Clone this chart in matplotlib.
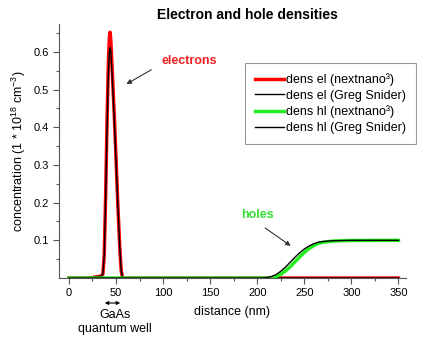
import numpy as np
import matplotlib
matplotlib.use('Agg')
import matplotlib.pyplot as plt

plt.rcParams['font.family'] = ['Liberation Sans', 'DejaVu Sans']
plt.rcParams['mathtext.fontset'] = 'custom'
plt.rcParams['mathtext.rm'] = 'Liberation Sans'
plt.rcParams['mathtext.default'] = 'regular'

# electron density (nextnano3), 1e18 cm^-3
x_el = [0, 10, 20, 25, 28, 31, 34, 36, 37.5, 39, 40.5, 42, 43, 43.7, 44.5, 46, 48, 50, 52, 54, 55.5, 57, 60, 100, 200, 350]
el_nn = [0, 0, 0, 0.001, 0.003, 0.004, 0.005, 0.01, 0.06, 0.22, 0.42, 0.58, 0.64, 0.652, 0.63, 0.55, 0.44, 0.32, 0.19, 0.08, 0.02, 0.0, 0, 0, 0, 0]
# electron density (Greg Snider)
el_gs = [0, 0, 0, 0.001, 0.003, 0.004, 0.005, 0.01, 0.06, 0.21, 0.40, 0.55, 0.60, 0.612, 0.60, 0.53, 0.43, 0.31, 0.19, 0.08, 0.02, 0.0, 0, 0, 0, 0]

# hole density
x_hl = [0, 100, 200, 205, 210, 215, 220, 225, 230, 235, 240, 245, 250, 255, 260, 265, 270, 280, 290, 300, 325, 350]
hl_nn = [0, 0, 0, 0, 0, 0.001, 0.004, 0.010, 0.019, 0.030, 0.043, 0.056, 0.068, 0.078, 0.086, 0.092, 0.095, 0.098, 0.099, 0.0995, 0.1, 0.1]
hl_gs = [0, 0, 0, 0, 0.001, 0.004, 0.009, 0.018, 0.029, 0.042, 0.055, 0.067, 0.077, 0.085, 0.091, 0.095, 0.097, 0.099, 0.0995, 0.1, 0.1, 0.1]

fig = plt.figure(figsize=(4.31, 3.42), dpi=100)
ax = fig.add_axes([0.137, 0.187, 0.805, 0.743])

ax.plot(x_el, el_nn, color='#ff0000', lw=2.5, label='dens el (nextnano³)')
ax.plot(x_el, el_gs, color='black', lw=1, label='dens el (Greg Snider)')
ax.plot(x_hl, hl_nn, color='#22ee22', lw=2.5, label='dens hl (nextnano³)')
ax.plot(x_hl, hl_gs, color='black', lw=1, label='dens hl (Greg Snider)')

ax.set_xlim(-10.5, 358)
ax.set_ylim(0, 0.674)
ax.set_xticks([0, 50, 100, 150, 200, 250, 300, 350])
ax.set_xticks(np.arange(25, 350, 50), minor=True)
ax.set_yticks([0.1, 0.2, 0.3, 0.4, 0.5, 0.6])
ax.set_yticks(np.arange(0.05, 0.66, 0.1), minor=True)
ax.spines['top'].set_visible(False)
ax.spines['right'].set_visible(False)
for s in ['left', 'bottom']:
    ax.spines[s].set_color('#555555')
ax.tick_params(labelsize=8, length=4, width=0.8, color='#555555')
ax.tick_params(which='minor', length=2.5, width=0.8, color='#555555')

fig.text(247 / 431, 1 - 15 / 342, 'Electron and hole densities', ha='center', va='center',
         fontsize=10, fontweight='bold')
fig.text(232 / 431, 1 - 312 / 342, 'distance (nm)', ha='center', va='center', fontsize=9)
ax.set_ylabel('concentration (1 * 10$^{18}$ cm$^{-3}$)', fontsize=9, labelpad=4)

leg = ax.legend(loc='upper left', bbox_to_anchor=(0.518, 0.87), fontsize=9,
                fancybox=False, edgecolor='#999999', framealpha=1,
                handlelength=2.3, handletextpad=0.2, labelspacing=0.3, borderpad=0.8)
leg.get_frame().set_linewidth(0.8)

ax.annotate('', xy=(58.5, 0.511), xytext=(90, 0.556),
            arrowprops=dict(arrowstyle='-|>', color='#333333', lw=0.8, mutation_scale=7))
ax.text(98, 0.575, 'electrons', color='#ee2222', fontsize=9, fontweight='bold', va='center')
ax.annotate('', xy=(238, 0.081), xytext=(206, 0.137),
            arrowprops=dict(arrowstyle='-|>', color='#333333', lw=0.8, mutation_scale=7))
ax.text(183, 0.166, 'holes', color='#33dd33', fontsize=9, fontweight='bold', va='center')

fig.text(115 / 431, 1 - 322 / 342, 'GaAs\nquantum well', ha='center', va='center', fontsize=9, linespacing=1.15)
ax.annotate('', xy=(102 / 431, 1 - 303 / 342), xytext=(123 / 431, 1 - 303 / 342),
            xycoords='figure fraction', textcoords='figure fraction',
            arrowprops=dict(arrowstyle='<|-|>', color='black', lw=0.8, mutation_scale=5))

fig.savefig('out.png', dpi=100)
